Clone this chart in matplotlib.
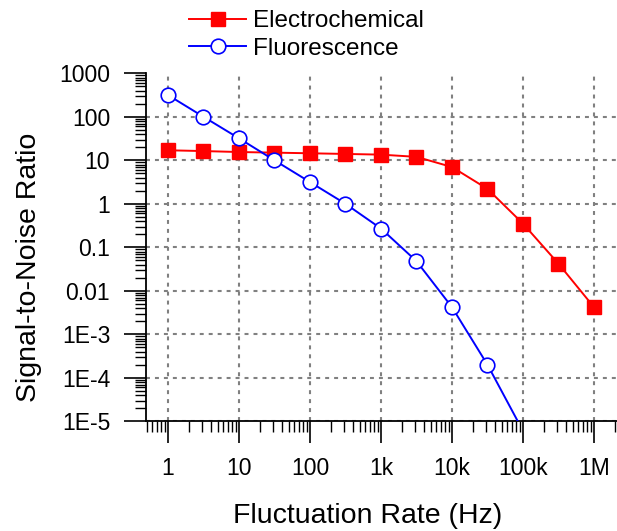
import matplotlib
matplotlib.use("Agg")
import matplotlib.pyplot as plt
from matplotlib.ticker import FixedLocator, FixedFormatter, LogLocator, NullFormatter

plt.rcParams['font.family'] = ['Liberation Sans', 'DejaVu Sans']

# Data
freq_electro = [1, 3.16, 10, 31.6, 100, 316, 1e3, 3.16e3, 1e4, 3.16e4, 1e5, 3.16e5, 1e6]
snr_electro = [17, 16.3, 15.5, 15, 14.5, 14, 13.5, 12, 7, 2.2, 0.35, 0.042, 0.0042]
freq_fluor = [1, 3.16, 10, 31.6, 100, 316, 1e3, 3.16e3, 1e4, 3.16e4, 1e5]
snr_fluor = [316, 100, 32, 10, 3.16, 1.0, 0.27, 0.048, 0.0042, 2.0e-4, 6e-6]

x_ticks = [1, 10, 100, 1e3, 1e4, 1e5, 1e6]
x_ticklabels = ['1', '10', '100', '1k', '10k', '100k', '1M']
y_ticks = [1e-5, 1e-4, 1e-3, 1e-2, 1e-1, 1, 10, 100, 1000]
y_ticklabels = ['1E-5', '1E-4', '1E-3', '0.01', '0.1', '1', '10', '100', '1000']

W, H = 617, 531
fig = plt.figure(figsize=(W / 100, H / 100), dpi=100)
ax = fig.add_axes([146 / W, 1 - 421.3 / H, 1 - 146 / W, (421.3 - 73.3) / H])

l1, = ax.plot(freq_electro, snr_electro, color='#ff0000', lw=1.4, marker='s',
              ms=9.6, mfc='#ff0000', mec='#ff0000', label='Electrochemical', zorder=3)
l2, = ax.plot(freq_fluor, snr_fluor, color='#0000ff', lw=1.4, marker='o',
              ms=10.5, mfc='white', mec='#0000ff', mew=1.2, label='Fluorescence', zorder=4)

ax.set_xscale('log')
ax.set_yscale('log')
ax.set_xlim(0.49, 2.11e6)
ax.set_ylim(1e-5, 1000)

ax.xaxis.set_major_locator(FixedLocator(x_ticks))
ax.xaxis.set_major_formatter(FixedFormatter(x_ticklabels))
ax.yaxis.set_major_locator(FixedLocator(y_ticks))
ax.yaxis.set_major_formatter(FixedFormatter(y_ticklabels))
ax.xaxis.set_minor_locator(LogLocator(base=10, subs=range(2, 10), numticks=30))
ax.yaxis.set_minor_locator(LogLocator(base=10, subs=range(2, 10), numticks=30))
ax.xaxis.set_minor_formatter(NullFormatter())
ax.yaxis.set_minor_formatter(NullFormatter())

for s in ['top', 'right']:
    ax.spines[s].set_visible(False)
for s in ['left', 'bottom']:
    ax.spines[s].set_linewidth(1.3)

ax.tick_params(which='major', direction='out', length=15.8, width=1.2,
               labelsize=16.5, pad=10, colors='black')
ax.tick_params(which='minor', direction='out', length=7.9, width=1.0)

ax.grid(True, which='major', color='#808080', linestyle=(0, (1.9, 2.4)), linewidth=1.5)
ax.set_axisbelow(True)
# no gridline along the top edge
ax.yaxis.get_major_ticks()[-1].gridline.set_visible(False)

fig.text(29 / W, 1 - 267 / H, 'Signal-to-Noise Ratio', rotation=90,
         ha='center', va='center', fontsize=20.5)
fig.text(368 / W, 1 - 516 / H, 'Fluctuation Rate (Hz)',
         ha='center', va='center', fontsize=20.5)

fig.legend(handles=[l1, l2], loc='upper left', bbox_to_anchor=(189 / W, 1 - 10 / H),
           frameon=False, fontsize=17.5, handlelength=2.35, handletextpad=0.29,
           labelspacing=0.23, borderpad=0, borderaxespad=0)

fig.savefig('out.png', dpi=100)
